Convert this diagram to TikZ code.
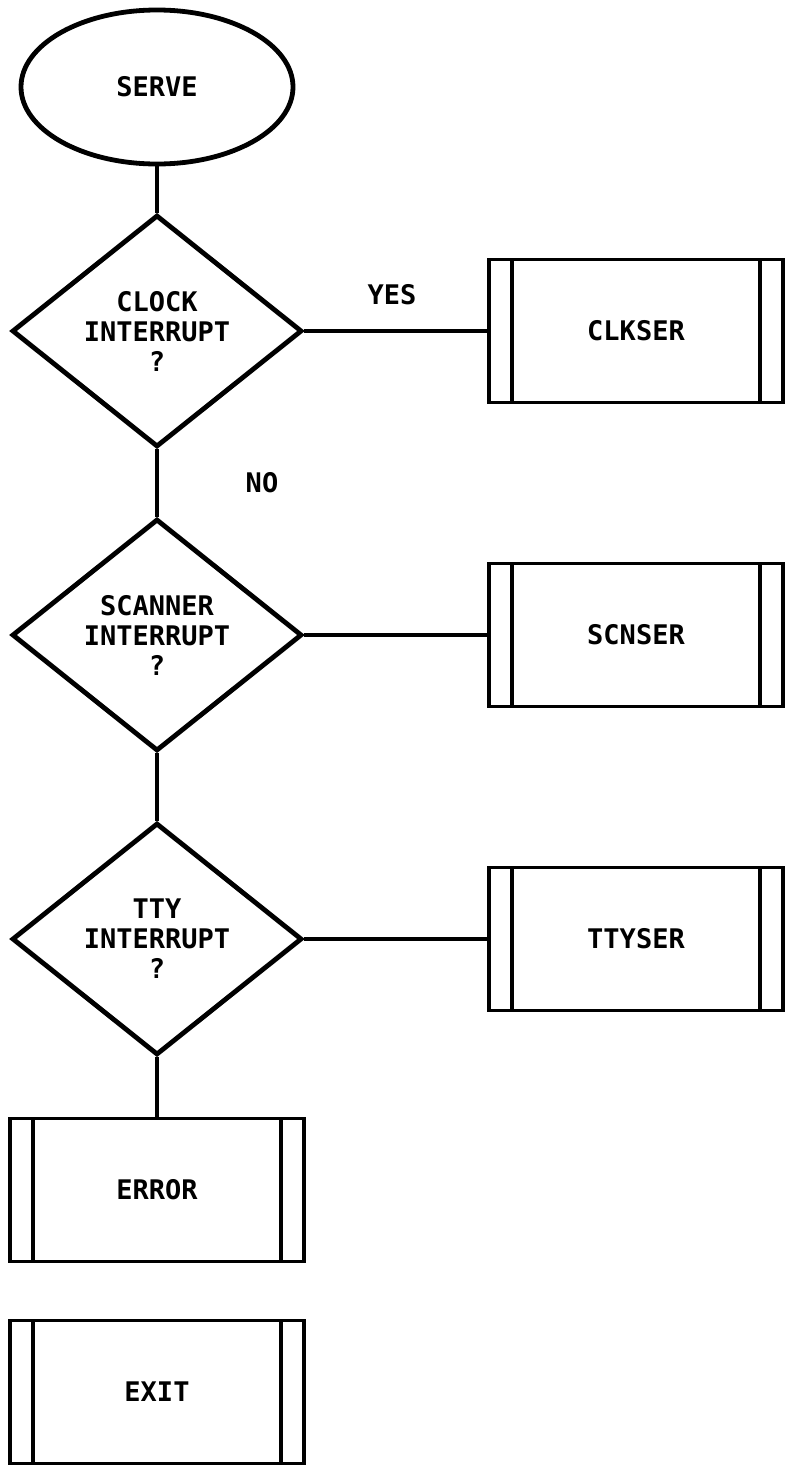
\documentclass[tikz,border=0pt]{standalone}
\usepackage{fontspec}
\setmonofont{DejaVu Sans Mono}
\usetikzlibrary{shapes.geometric}

\begin{document}
\begin{tikzpicture}[x=0.5pt,y=-0.5pt]
  \tikzstyle{chartfont}=[font=\ttfamily\bfseries\fontsize{13.5}{15}\selectfont]
  \tikzstyle{termnode}=[draw, ellipse, line width=2.4pt, minimum width=136pt, minimum height=77pt, chartfont]
  \tikzstyle{decide}=[draw, diamond, aspect=1.25, inner sep=0pt, line width=2.4pt, minimum width=145pt, minimum height=116pt, align=center, chartfont]
  \tikzstyle{subbox}=[draw, line width=1.6pt, minimum width=147pt, minimum height=71.5pt, chartfont,
    path picture={
      \draw[line width=1.6pt] ([xshift=11.5pt]path picture bounding box.north west) -- ([xshift=11.5pt]path picture bounding box.south west);
      \draw[line width=1.6pt] ([xshift=-11.5pt]path picture bounding box.north east) -- ([xshift=-11.5pt]path picture bounding box.south east);
    }]
  \tikzstyle{flow}=[line width=2.4pt]
  \tikzstyle{branch}=[line width=1.6pt]
  \useasboundingbox (0,0) rectangle (788,1478);
  \node[termnode] (serve) at (157,87) {SERVE};
  \node[decide] (clock) at (157,331) {CLOCK\\INTERRUPT\\?};
  \node[decide] (scanner) at (157,635) {SCANNER\\INTERRUPT\\?};
  \node[decide] (tty) at (157,939) {TTY\\INTERRUPT\\?};
  \node[subbox] (clkser) at (636,331) {CLKSER};
  \node[subbox] (scnser) at (636,635) {SCNSER};
  \node[subbox] (ttyser) at (636,939) {TTYSER};
  \node[subbox] (error) at (157,1190) {ERROR};
  \node[subbox] (exit) at (157,1392) {EXIT};
  \node[chartfont] (yes) at (392,295) {YES};
  \node[chartfont] (no) at (262,483) {NO};
  \draw[flow] (serve) -- (clock);
  \draw[flow] (clock) -- (scanner);
  \draw[flow] (scanner) -- (tty);
  \draw[flow] (tty) -- (error);
  \draw[branch] (clock) -- (clkser);
  \draw[branch] (scanner) -- (scnser);
  \draw[branch] (tty) -- (ttyser);
\end{tikzpicture}
\end{document}
